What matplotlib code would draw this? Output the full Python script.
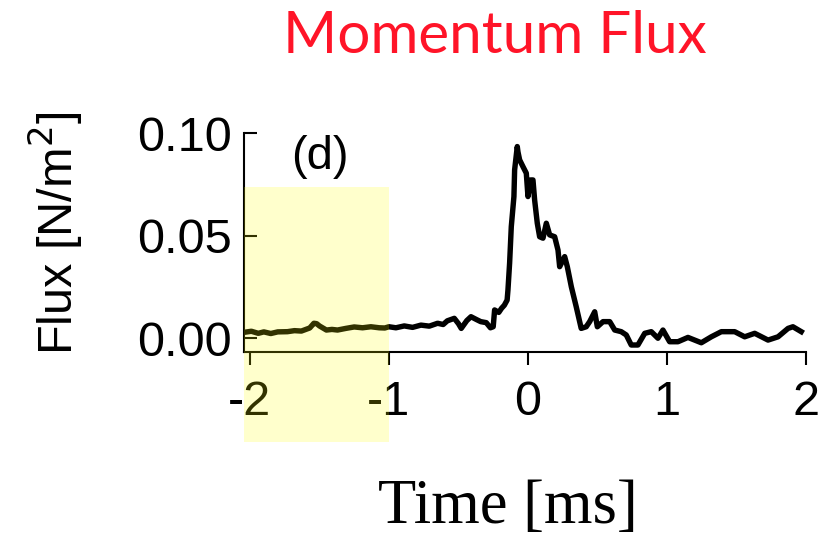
import numpy as np
import matplotlib
matplotlib.use("Agg")
import matplotlib.pyplot as plt
from matplotlib.patches import Rectangle

# trace (time in ms, flux in N/m^2)
time_ms = [-2.04, -1.99, -1.94, -1.90, -1.85, -1.80, -1.73, -1.68, -1.63, -1.57,
           -1.54, -1.52, -1.50, -1.45, -1.41, -1.37, -1.31, -1.25, -1.19, -1.13,
           -1.07, -1.03, -1.00, -0.95, -0.89, -0.83, -0.77, -0.71, -0.65, -0.61,
           -0.58, -0.53, -0.50, -0.48, -0.44, -0.41, -0.37, -0.34, -0.30, -0.27,
           -0.25, -0.24, -0.21, -0.19, -0.17, -0.15, -0.144, -0.132, -0.120, -0.101,
           -0.096, -0.077, -0.072, -0.060, -0.036, -0.012, 0.0, 0.019, 0.036, 0.048,
           0.067, 0.084, 0.108, 0.132, 0.156, 0.192, 0.216, 0.228, 0.264, 0.283,
           0.312, 0.347, 0.383, 0.419, 0.444, 0.480, 0.499, 0.540, 0.588, 0.624,
           0.671, 0.707, 0.743, 0.791, 0.840, 0.887, 0.935, 0.971, 1.019, 1.079,
           1.151, 1.247, 1.319, 1.391, 1.487, 1.559, 1.631, 1.727, 1.799, 1.871,
           1.906, 1.966]
flux = [0.0028, 0.0033, 0.0023, 0.0030, 0.0022, 0.0030, 0.0031, 0.0036, 0.0034, 0.0049,
        0.0072, 0.0070, 0.0059, 0.0039, 0.0042, 0.0039, 0.0047, 0.0054, 0.0050, 0.0055,
        0.0050, 0.0049, 0.0055, 0.0050, 0.0059, 0.0052, 0.0063, 0.0058, 0.0072, 0.0066,
        0.0084, 0.0096, 0.0070, 0.0047, 0.0085, 0.0104, 0.0090, 0.0080, 0.0075, 0.0050,
        0.0055, 0.0137, 0.0125, 0.0145, 0.0160, 0.0185, 0.0234, 0.0366, 0.0543, 0.0690,
        0.0820, 0.0934, 0.0908, 0.0869, 0.0836, 0.0804, 0.0690, 0.0771, 0.0771, 0.0673,
        0.0560, 0.0494, 0.0487, 0.0560, 0.0503, 0.0494, 0.0429, 0.0348, 0.0397, 0.0348,
        0.0250, 0.0153, 0.0047, 0.0055, 0.0080, 0.0128, 0.0055, 0.0080, 0.0080, 0.0039,
        0.0031, 0.0015, -0.0034, -0.0034, 0.0023, 0.0031, -0.0001, 0.0039, -0.0018, -0.0018,
        0.0003, -0.0023, 0.0006, 0.0031, 0.0031, 0.0006, 0.0023, -0.0010, 0.0006, 0.0047,
        0.0055, 0.0031]

xticks = [-2, -1, 0, 1, 2]
xtick_labels = ["-2", "-1", "0", "1", "2"]
yticks = [0.00, 0.05, 0.10]
ytick_labels = ["0.00", "0.05", "0.10"]

plt.rcParams['font.family'] = ['Liberation Sans', 'DejaVu Sans']

fig = plt.figure(figsize=(8.27, 5.42), dpi=100)
ax = fig.add_axes([0.295, 0.3506, 0.6796, 0.404])

ax.plot(time_ms, flux, color='black', lw=3.9, solid_joinstyle='round')

ax.set_xlim(-2.043, 2.0)
ax.set_ylim(-0.0068, 0.10)
ax.spines['top'].set_visible(False)
ax.spines['right'].set_visible(False)
for s in ['left', 'bottom']:
    ax.spines[s].set_linewidth(1.5)

ax.set_xticks(xticks)
ax.set_xticklabels(xtick_labels)
ax.set_yticks(yticks)
ax.set_yticklabels(ytick_labels)
ax.tick_params(axis='x', direction='out', length=9, width=1.5, labelsize=35, pad=11)
ax.tick_params(axis='y', direction='in', length=9, width=1.5, labelsize=35, pad=9)

ax.text(-1.5, 0.0883, "(d)", fontsize=34, ha='center', va='center')

# highlighted window, drawn over the trace and running below the axis
ax.add_patch(Rectangle((-2.043, -0.0507), 1.043, 0.0737 + 0.0507,
                       facecolor=(1, 1, 0), alpha=0.2, edgecolor='none',
                       zorder=5, clip_on=False))

fig.text(0.067, 0.569, "Flux [N/m$^2$]", rotation=90, fontsize=35,
         ha='center', va='center')
fig.text(0.614, 0.062, "Time [ms]", fontsize=45, family='Liberation Serif',
         ha='center', va='center')
fig.text(0.598, 0.932, "Momentum Flux", fontsize=42, color='#ff1428',
         family='Lato', ha='center', va='center')

fig.savefig("out.png", dpi=100)
